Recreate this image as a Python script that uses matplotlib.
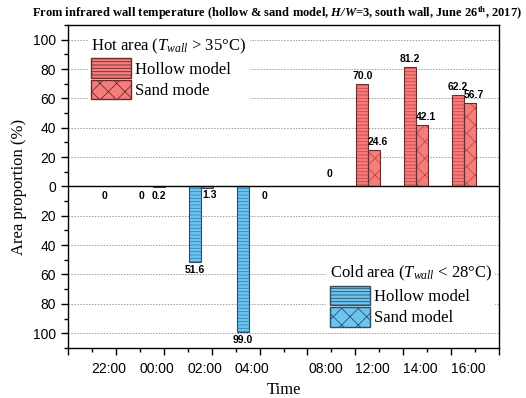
import numpy as np
import matplotlib.pyplot as plt
from matplotlib.patches import Patch
from matplotlib.ticker import MultipleLocator, FuncFormatter

plt.rcParams['hatch.linewidth'] = 0.6
plt.rcParams['mathtext.fontset'] = 'custom'
plt.rcParams['mathtext.rm'] = 'Liberation Serif'
plt.rcParams['mathtext.it'] = 'Liberation Serif:italic'
plt.rcParams['mathtext.bf'] = 'Liberation Serif:bold'
plt.rcParams['mathtext.bfit'] = 'Liberation Serif:italic:bold'

times = ['22:00', '00:00', '02:00', '04:00', '08:00', '12:00', '14:00', '16:00']
x_pos = [0.77, 1.77, 2.77, 3.77, 5.3, 6.27, 7.27, 8.27]

# area proportion (%) of the wall above 35 degC
hot_hollow = [0, 0, 0, 0, 0, 70.0, 81.2, 62.2]
hot_sand = [0, 0, 0, 0, 0, 24.6, 42.1, 56.7]
# area proportion (%) of the wall below 28 degC
cold_hollow = [0, 0, 51.6, 99.0, 0, 0, 0, 0]
cold_sand = [0, 0.2, 1.3, 0, 0, 0, 0, 0]

hot_face, hot_hatch, hot_edge = '#f47d7d', '#c94848', '#6e2a2a'
cold_face, cold_hatch, cold_edge = '#6cc5f0', '#3585b8', '#2d4f66'

serif = ['Liberation Serif', 'DejaVu Serif']
sans = ['Liberation Sans', 'DejaVu Sans']

fig = plt.figure(figsize=(5.26, 3.98), dpi=100)
ax = fig.add_axes([0.129, 0.126, 0.820, 0.811])

w = 0.25
xp = np.array(x_pos)
xh = xp - w / 2
xs = xp + w / 2

def draw(x, vals, sign, face, hatch_col, edge, hatch):
    vals = np.array(vals, dtype=float)
    m = vals > 0
    # hatch colour comes from edgecolor, outline drawn on top separately
    ax.bar(x[m], sign * vals[m], w, color=face, edgecolor=hatch_col,
           hatch=hatch, linewidth=0, zorder=3)
    ax.bar(x[m], sign * vals[m], w, fill=False, edgecolor=edge,
           linewidth=0.8, zorder=4)

draw(xh, hot_hollow, 1, hot_face, hot_hatch, hot_edge, '-----')
draw(xs, hot_sand, 1, hot_face, hot_hatch, hot_edge, 'xx')
draw(xh, cold_hollow, -1, cold_face, cold_hatch, cold_edge, '-----')
draw(xs, cold_sand, -1, cold_face, cold_hatch, cold_edge, 'xx')

lab_kw = dict(fontsize=7.5, fontweight='bold', family=sans, ha='center', zorder=5)

# hot labels above the bars
for x, v in zip(xh, hot_hollow):
    if v > 0:
        ax.text(x, v + 2, f'{v:.1f}', va='bottom', **lab_kw)
for x, v in zip(xs, hot_sand):
    if v > 0:
        ax.text(x + 0.08, v + 2, f'{v:.1f}', va='bottom', **lab_kw)

# cold labels below the bars
for x, v in zip(xh, cold_hollow):
    if v > 1:
        ax.text(x, -v - 2, f'{v:.1f}', va='top', **lab_kw)
ax.text(xs[2] + 0.06, -1.3 - 1, '1.3', va='top', **lab_kw)
ax.text(xs[1], -3, '0.2', va='top', **lab_kw)
ax.text(xh[1] - 0.1, -3, '0', va='top', **lab_kw)
ax.text(xp[0], -3, '0', va='top', **lab_kw)
ax.text(xs[3] + 0.2, -3, '0', va='top', **lab_kw)
ax.text(xp[4] + 0.15, 12, '0', va='top', **lab_kw)

ax.axhline(0, color='black', lw=1.0, zorder=4)

ax.set_xlim(0, 9)
ax.set_ylim(-110, 110)
ax.yaxis.set_major_locator(MultipleLocator(20))
ax.yaxis.set_minor_locator(MultipleLocator(10))
ax.yaxis.set_major_formatter(FuncFormatter(lambda v, p: f'{abs(v):.0f}'))
ax.xaxis.set_major_locator(MultipleLocator(1))
ax.xaxis.set_minor_locator(MultipleLocator(0.5))
ax.set_xticklabels([])
ax.tick_params(axis='both', which='major', direction='out', length=5, width=1)
ax.tick_params(axis='both', which='minor', direction='out', length=3, width=1)
ax.tick_params(axis='y', labelsize=10)
for lbl in ax.get_yticklabels():
    lbl.set_family(sans)
for s in ax.spines.values():
    s.set_linewidth(1.0)

for v in [-100, -80, -60, -40, -20, 20, 40, 60, 80, 100]:
    ax.axhline(v, color='#9a9a9a', lw=0.7, ls=(0, (1.5, 1.5)), zorder=0)

for x, t in zip(xp, times):
    ax.text(x + 0.08, -0.045, t, transform=ax.get_xaxis_transform(),
            ha='center', va='top', fontsize=10, family=sans)

ax.set_xlabel('Time', fontsize=12, family=serif, labelpad=16)
ax.set_ylabel('Area proportion (%)', fontsize=12, family=serif, labelpad=4)

fig.text(0.527, 0.967,
         r'From infrared wall temperature (hollow & sand model, $\mathbfit{H/W}$=3, south wall, June 26$^{\mathbf{th}}$, 2017)',
         ha='center', va='center', fontsize=9.0, fontweight='bold', family=serif)

hot_handles = [Patch(facecolor=hot_face, edgecolor=hot_edge, hatch='-----', label='Hollow model'),
               Patch(facecolor=hot_face, edgecolor=hot_edge, hatch='xx', label='Sand mode')]
cold_handles = [Patch(facecolor=cold_face, edgecolor=cold_edge, hatch='-----', label='Hollow model'),
                Patch(facecolor=cold_face, edgecolor=cold_edge, hatch='xx', label='Sand model')]

leg_kw = dict(frameon=True, framealpha=1, edgecolor='none', fancybox=False,
              prop={'family': serif, 'size': 12}, handlelength=2.4, handleheight=1.4,
              handletextpad=0.25, labelspacing=0.15, borderpad=0.2,
              title_fontproperties={'family': serif, 'size': 12})
leg1 = ax.legend(handles=hot_handles, title=r'Hot area ($T_{wall}$ > 35°C)',
                 loc='upper left', bbox_to_anchor=(0.027, 1.0), **leg_kw)
leg1._legend_box.align = 'left'
ax.add_artist(leg1)
leg2 = ax.legend(handles=cold_handles, title=r'Cold area ($T_{wall}$ < 28°C)',
                 loc='lower left', bbox_to_anchor=(0.58, 0.03), **leg_kw)
leg2._legend_box.align = 'left'

fig.savefig('out.png', dpi=100)
